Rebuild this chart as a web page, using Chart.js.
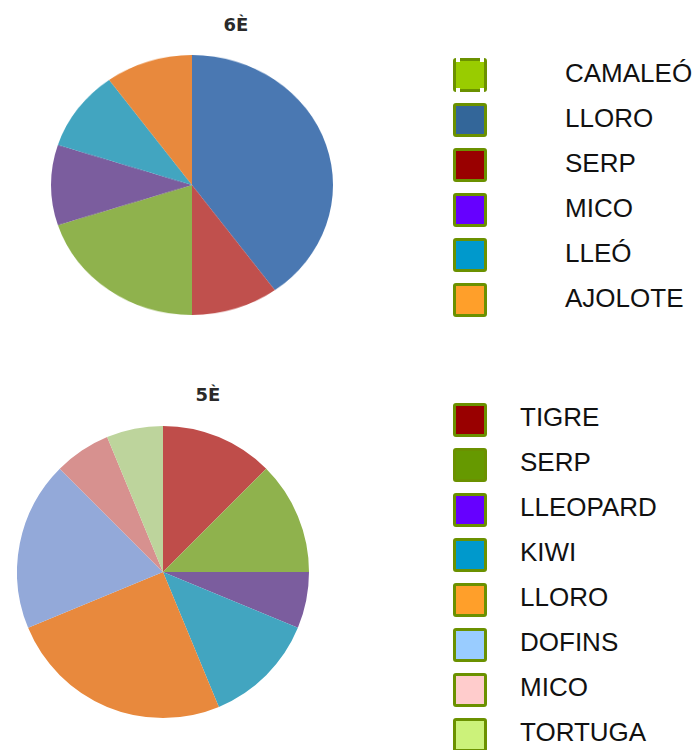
<!DOCTYPE html>
<html>
<head>
<meta charset="utf-8">
<script src="https://cdn.jsdelivr.net/npm/chart.js@4"></script>
<style>
  html, body { margin:0; padding:0; background:#fff; }
  body { width:697px; height:750px; position:relative; overflow:hidden; font-family:"Liberation Sans", Arial, sans-serif; }
  .pie { position:absolute; }
  .title { position:absolute; font-family:"DejaVu Sans", sans-serif; font-weight:bold; font-size:18px; line-height:18px; color:#2a2a2a; transform:translateX(-50%); white-space:nowrap; }
  .lbox { position:absolute; width:34px; height:34px; box-sizing:border-box; border:3.5px solid #6b9100; border-radius:3px; }
  .ltext { position:absolute; font-size:26px; line-height:26px; color:#111; white-space:nowrap; }
  .notch { position:absolute; width:4px; height:4px; background:#fff; }
</style>
</head>
<body>
<div class="pie" id="p6wrap" style="left:51px; top:44px; width:282px; height:282px; transform:scaleY(0.922); transform-origin:50% 50%;"><canvas id="c6"></canvas></div>
<div class="pie" id="p5wrap" style="left:17px; top:426px; width:292px; height:292px;"><canvas id="c5"></canvas></div>
<div class="title" style="left:236px; top:16px;">6È</div>
<div class="title" style="left:208px; top:386px;">5È</div>
<div id="legend"></div>
<script>
// ---- data ----
const titles = ['6È', '5È'];
const labels6 = ['CAMALEÓ', 'LLORO', 'SERP', 'MICO', 'LLEÓ', 'AJOLOTE'];
const values6 = [4, 1, 2, 1, 1, 1];
const labels5 = ['TIGRE', 'SERP', 'LLEOPARD', 'KIWI', 'LLORO', 'DOFINS', 'MICO', 'TORTUGA'];
const values5 = [2, 2, 1, 2, 4, 3, 1, 1];

// ---- styles ----
const sliceColors6 = ['#4A78B2', '#C0504D', '#8FB24D', '#7B5D9E', '#42A5C0', '#E8893D'];
const sliceColors5 = ['#BF4D4A', '#8FB24D', '#7B5D9E', '#42A5C0', '#E8893D', '#93A9D9', '#D7918F', '#BDD49C'];
const legendColors6 = ['#99CC00', '#336699', '#990000', '#6600FF', '#0099CC', '#FF9F2A'];
const legendColors5 = ['#990000', '#669900', '#6600FF', '#0099CC', '#FF9F2A', '#99CCFF', '#FFCCCC', '#CCF27A'];

function makePie(id, labels, values, colors) {
  new Chart(document.getElementById(id), {
    type: 'pie',
    data: { labels: labels, datasets: [{ data: values, backgroundColor: colors, borderWidth: 0 }] },
    options: {
      responsive: true, maintainAspectRatio: false, animation: false,
      layout: { padding: 0 },
      plugins: { legend: { display: false }, tooltip: { enabled: false }, title: { display: false } }
    }
  });
}
makePie('c6', labels6, values6, sliceColors6);
makePie('c5', labels5, values5, sliceColors5);

// ---- custom legends ----
const lg = document.getElementById('legend');
function addLegend(labels, colors, boxX, textX, firstCenter, textFirstCenter, step) {
  labels.forEach((lab, i) => {
    const cy = firstCenter + i * step;
    const b = document.createElement('div');
    b.className = 'lbox';
    b.style.left = boxX + 'px';
    b.style.top = (cy - 17) + 'px';
    b.style.background = colors[i];
    lg.appendChild(b);
    const t = document.createElement('div');
    t.className = 'ltext';
    t.style.left = textX + 'px';
    t.style.top = (textFirstCenter + i * step - 12.7) + 'px';
    t.textContent = lab;
    lg.appendChild(t);
  });
}
addLegend(labels6, legendColors6, 453, 565, 75, 72.5, 45);
addLegend(labels5, legendColors5, 453, 520, 420, 417, 45);
// notches of the first (CAMALEÓ) box
[[456, 58], [480, 58], [456, 88], [480, 88]].forEach(p => {
  const n = document.createElement('div');
  n.className = 'notch';
  n.style.left = p[0] + 'px';
  n.style.top = p[1] + 'px';
  lg.appendChild(n);
});
</script>
</body>
</html>
